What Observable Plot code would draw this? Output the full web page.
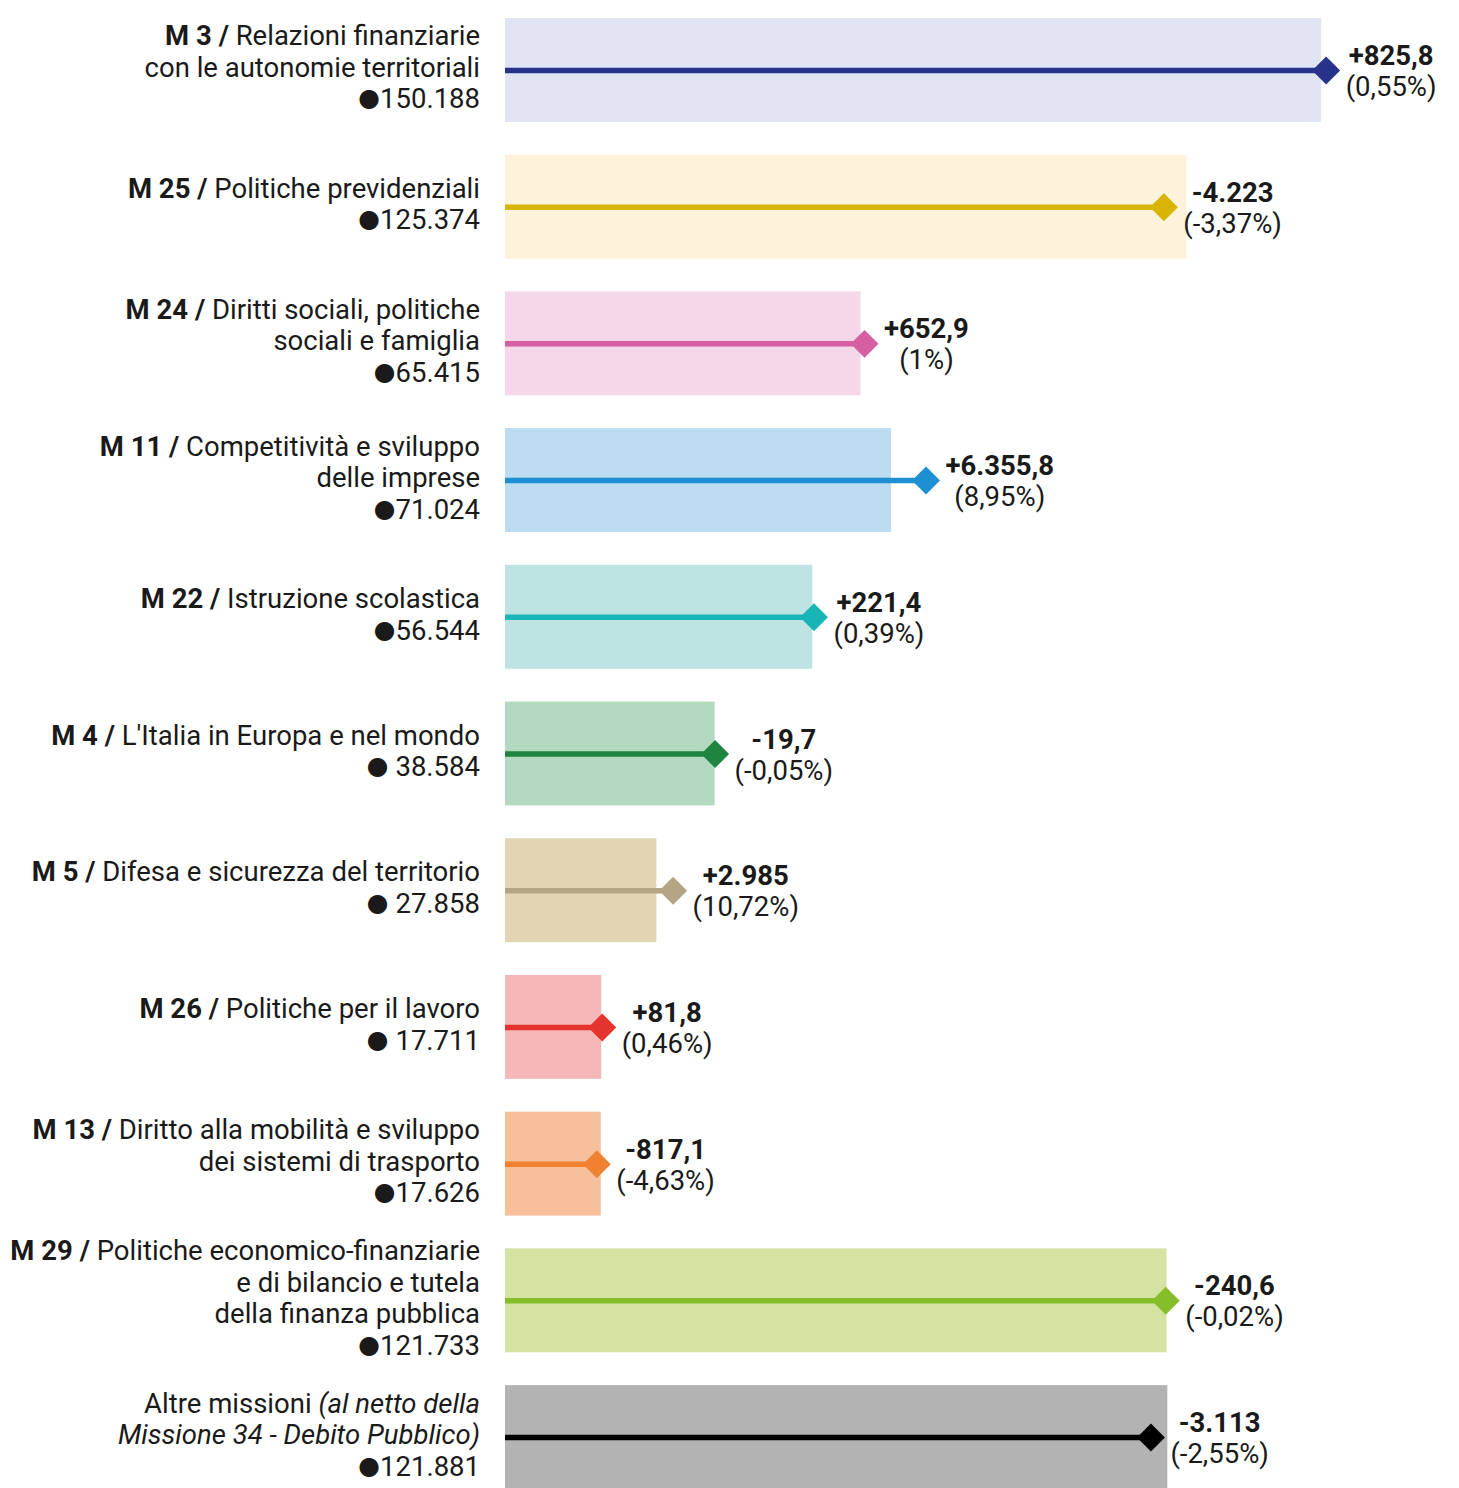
<!DOCTYPE html>
<html><head><meta charset="utf-8">
<script src="https://cdn.jsdelivr.net/npm/d3@7"></script>
<script src="https://cdn.jsdelivr.net/npm/@observablehq/plot@0.6"></script>
<style>html,body{margin:0;padding:0;background:#fff;overflow:hidden} svg{display:block}</style>
</head><body><div id="chart"></div>
<script>
const ids = ["M3","M25","M24","M11","M22","M4","M5","M26","M13","M29","ALT"];
const labels = [
 "**M 3 /** Relazioni finanziarie|con le autonomie territoriali",
 "**M 25 /** Politiche previdenziali",
 "**M 24 /** Diritti sociali, politiche|sociali e famiglia",
 "**M 11 /** Competitività e sviluppo|delle imprese",
 "**M 22 /** Istruzione scolastica",
 "**M 4 /** L'Italia in Europa e nel mondo",
 "**M 5 /** Difesa e sicurezza del territorio",
 "**M 26 /** Politiche per il lavoro",
 "**M 13 /** Diritto alla mobilità e sviluppo|dei sistemi di trasporto",
 "**M 29 /** Politiche economico-finanziarie|e di bilancio e tutela|della finanza pubblica",
 "Altre missioni _(al netto della_|_Missione 34 - Debito Pubblico)_"
];
const baseValues = [150188, 125374, 65415, 71024, 56544, 38584, 27858, 17711, 17626, 121733, 121881];
const baseLabels = ["150.188","125.374","65.415","71.024","56.544"," 38.584"," 27.858"," 17.711","17.626","121.733","121.881"];
const changes = [825.8, -4223, 652.9, 6355.8, 221.4, -19.7, 2985, 81.8, -817.1, -240.6, -3113];
const changeLabels = ["+825,8","-4.223","+652,9","+6.355,8","+221,4","-19,7","+2.985","+81,8","-817,1","-240,6","-3.113"];
const pctLabels = ["(0,55%)","(-3,37%)","(1%)","(8,95%)","(0,39%)","(-0,05%)","(10,72%)","(0,46%)","(-4,63%)","(-0,02%)","(-2,55%)"];
const barColors = ["#e1e4f3","#fcf3da","#f5d7e9","#bddbf1","#bee3e3","#b3d9c1","#e3d5b4","#f5b7b7","#f7bf9a","#d3e4a2","#b3b3b3"];
const lineColors = ["#27338a","#d8b404","#d65fa1","#1d8fd2","#17b5b6","#1e8541","#b3a583","#e5332e","#f08130","#86bd2b","#000000"];

const data = ids.map((id, i) => ({
  id, base: baseValues[i], end: baseValues[i] + changes[i],
  fill: barColors[i], line: lineColors[i],
  label: labels[i], baseLabel: baseLabels[i],
  changeLabel: changeLabels[i], pctLabel: pctLabels[i]
}));

const FONT = "Roboto, 'Noto Sans', sans-serif";
const FS = 27.5;
const TEXT = "#1a1a1a";
const ctx = document.createElement("canvas").getContext("2d");
function measure(t, bold) { ctx.font = `${bold ? "bold " : ""}${FS}px Roboto`; return ctx.measureText(t).width; }

function parseLine(line) {
  return line.split(/(\*\*[^*]+\*\*|_[^_]+_)/).filter(s => s.length).map(s => {
    if (s.startsWith("**")) return {t: s.slice(2, -2), bold: true};
    if (s.startsWith("_")) return {t: s.slice(1, -1), italic: true};
    return {t: s};
  });
}

function textMark(index, scales) {
  const y = scales.y, x = scales.x;
  const bw = typeof y.bandwidth === "function" ? y.bandwidth() : (scales.scales && scales.scales.y ? scales.scales.y.bandwidth : 0);
  const g = d3.create("svg:g").attr("font-family", FONT).attr("font-size", FS).attr("fill", TEXT);
  data.forEach(d => {
    const cy = y(d.id) + bw / 2;
    const lines = d.label.split("|").map(parseLine);
    lines.push([{t: "●", bullet: true}, {t: d.baseLabel, after: true}]);
    const n = lines.length;
    const lx = x(0) - 25;
    lines.forEach((segs, i) => {
      const t = g.append("text").attr("x", lx).attr("y", cy + 7 + (i - (n - 1) / 2) * 31.5).attr("text-anchor", "end");
      segs.forEach(s => {
        const ts = t.append("tspan").text(s.t);
        if (s.bold) ts.attr("font-weight", "bold");
        if (s.italic) ts.attr("font-style", "italic");
        if (s.bullet) ts.attr("font-family", "'DejaVu Sans'").attr("font-size", 25).attr("dy", -2);
        if (s.after) ts.attr("dy", 2);
      });
    });
    const w = Math.max(measure(d.changeLabel, true), measure(d.pctLabel, false));
    const cx = x(d.end) + 20 + w / 2;
    g.append("text").attr("x", cx).attr("y", cy - 5).attr("text-anchor", "middle").attr("font-weight", "bold").text(d.changeLabel);
    g.append("text").attr("x", cx).attr("y", cy + 26).attr("text-anchor", "middle").text(d.pctLabel);
  });
  return g.node();
}

const plot = Plot.plot({
  width: 1459, height: 1489,
  marginLeft: 505, marginRight: 3, marginTop: 18, marginBottom: 0,
  x: {domain: [0, 175000], axis: null},
  y: {domain: ids, axis: null, paddingInner: 0.24, paddingOuter: 0, round: false},
  color: {type: "identity"},
  style: {fontFamily: FONT, background: "#fff"},
  marks: [
    Plot.barX(data, {x: "base", y: "id", fill: "fill"}),
    Plot.ruleY(data, {y: "id", x1: 0, x2: "end", stroke: "line", strokeWidth: 5.5}),
    Plot.dot(data, {x: "end", y: "id", symbol: "diamond2", r: 12.6, fill: "line", stroke: "none"}),
    textMark
  ]
});
document.getElementById("chart").appendChild(plot);
</script>
</body></html>
